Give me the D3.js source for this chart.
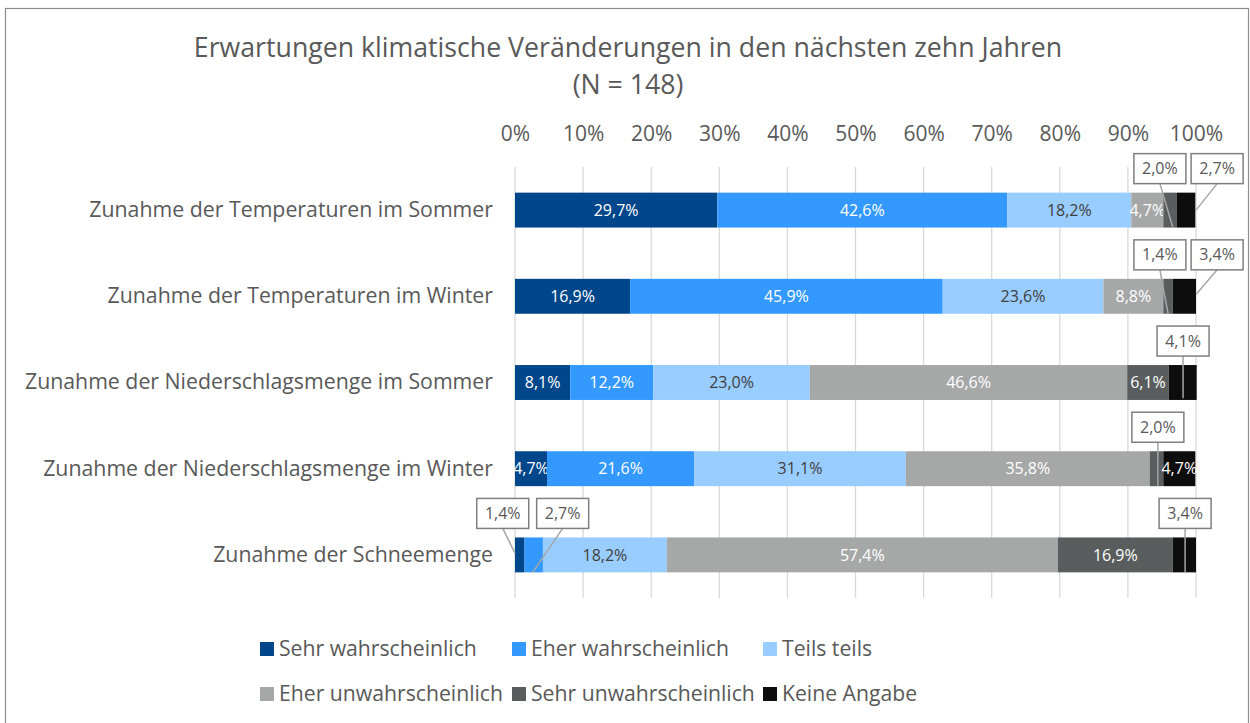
<!DOCTYPE html>
<html><head><meta charset="utf-8">
<script src="https://cdn.jsdelivr.net/npm/d3@7"></script>
<style>
html,body{margin:0;padding:0;background:#fff;}
svg{display:block;font-family:"Open Sans",sans-serif;}
</style></head>
<body>
<svg id="chart" width="1250" height="723"></svg>
<script>
const categories = [
  "Zunahme der Temperaturen im Sommer",
  "Zunahme der Temperaturen im Winter",
  "Zunahme der Niederschlagsmenge im Sommer",
  "Zunahme der Niederschlagsmenge im Winter",
  "Zunahme der Schneemenge"
];
const seriesNames = ["Sehr wahrscheinlich","Eher wahrscheinlich","Teils teils","Eher unwahrscheinlich","Sehr unwahrscheinlich","Keine Angabe"];
const sehrWahrscheinlich   = [29.7, 16.9,  8.1,  4.7,  1.4];
const eherWahrscheinlich   = [42.6, 45.9, 12.2, 21.6,  2.7];
const teilsTeils           = [18.2, 23.6, 23.0, 31.1, 18.2];
const eherUnwahrscheinlich = [ 4.7,  8.8, 46.6, 35.8, 57.4];
const sehrUnwahrscheinlich = [ 2.0,  1.4,  6.1,  2.0, 16.9];
const keineAngabe          = [ 2.7,  3.4,  4.1,  4.7,  3.4];
const tickValues = [0,10,20,30,40,50,60,70,80,90,100];
// callouts: [row, series, box centre (% units), leader end (% units), leader end (fraction of bar height)]
const callouts = [
  [0,4, 94.7, 96.6, 1.0],[0,5,103.1,100.0,0.5],
  [1,4, 94.7, 95.9, 1.0],[1,5,103.1,100.0,0.45],
  [2,5, 98.1, 98.1, 0.95],
  [3,4, 94.4, 94.4, 1.0],
  [4,0, -1.8,  0.0, 0.45],[4,1, 7.0, 2.6, 1.0],[4,5, 98.4, 98.4, 1.0]
];

const colors = ["#00468B","#3399FF","#99CCFF","#A6A8A8","#595D5E","#0D0D0D"];
const labelColors = ["#fff","#fff","#404040","#fff","#fff","#fff"];
const allSeries = [sehrWahrscheinlich, eherWahrscheinlich, teilsTeils, eherUnwahrscheinlich, sehrUnwahrscheinlich, keineAngabe];

const svg = d3.select("#chart");
const textCol = "#595959";

// border
svg.append("rect").attr("x",5.5).attr("y",8.5).attr("width",1243).attr("height",730)
  .attr("fill","none").attr("stroke","#8c8c8c").attr("stroke-width",1.2);

// title
svg.append("text").attr("x",628).attr("y",57).attr("text-anchor","middle")
  .attr("font-size",26.7).attr("fill",textCol)
  .text("Erwartungen klimatische Veränderungen in den nächsten zehn Jahren");
svg.append("text").attr("x",628).attr("y",94).attr("text-anchor","middle")
  .attr("font-size",26.7).attr("fill",textCol).text("(N = 148)");

const x = d3.scaleLinear().domain([0,100]).range([515,1196]);
const y = d3.scaleBand().domain(categories).range([167,598]).paddingInner(0.595).paddingOuter(0.2975);

// gridlines
svg.append("g").selectAll("line").data(tickValues).join("line")
  .attr("x1",d=>x(d)).attr("x2",d=>x(d)).attr("y1",167).attr("y2",598)
  .attr("stroke","#d9d9d9").attr("stroke-width",1.3);

// top axis
const ax = svg.append("g").attr("transform","translate(0,147)")
  .call(d3.axisTop(x).tickValues(tickValues).tickFormat(d=>d+"%").tickSize(0).tickPadding(6));
ax.select(".domain").remove();
ax.selectAll("text").attr("font-size",21).attr("fill",textCol).attr("font-family","Open Sans");

// category labels
const ay = svg.append("g").attr("transform","translate(493,0)")
  .call(d3.axisLeft(y).tickSize(0).tickPadding(0));
ay.select(".domain").remove();
ay.selectAll("text").attr("font-size",21.3).attr("fill",textCol).attr("font-family","Open Sans");

// stacked data
const rows = categories.map((c,i)=>{
  const o = {cat:c}; seriesNames.forEach((s,j)=>o[s]=allSeries[j][i]); return o;
});
const stack = d3.stack().keys(seriesNames)(rows);

const fmt = v => v.toFixed(1).replace(".",",")+"%";
const calloutSet = new Set(callouts.map(c=>c[0]+"_"+c[1]));

stack.forEach((layer,j)=>{
  const g = svg.append("g");
  g.selectAll("rect").data(layer).join("rect")
    .attr("x",d=>x(d[0])).attr("width",d=>x(d[1])-x(d[0]))
    .attr("y",d=>y(d.data.cat)).attr("height",y.bandwidth())
    .attr("fill",colors[j]);
  g.selectAll("text").data(layer.map((d,i)=>({d,i})).filter(o=>!calloutSet.has(o.i+"_"+j)))
    .join("text")
    .attr("x",o=>x((o.d[0]+o.d[1])/2)).attr("y",o=>y(o.d.data.cat)+y.bandwidth()/2)
    .attr("dy","0.35em").attr("text-anchor","middle")
    .attr("font-size",16).attr("fill",labelColors[j])
    .text(o=>fmt(allSeries[j][o.i]));
});

// callouts
const cg = svg.append("g");
callouts.forEach(([r,s,bc,le,lf])=>{
  const by = y(categories[r]);
  const boxW = 52, boxH = 30;
  const cx = x(bc);
  const top = by - 39;
  cg.append("line").attr("x1",cx).attr("y1",top+boxH).attr("x2",x(le)).attr("y2",by+lf*y.bandwidth())
    .attr("stroke","#a6a6a6").attr("stroke-width",1.5);
  cg.append("rect").attr("x",cx-boxW/2).attr("y",top).attr("width",boxW).attr("height",boxH)
    .attr("fill","#fff").attr("stroke","#7f7f7f").attr("stroke-width",1.5);
  cg.append("text").attr("x",cx).attr("y",top+boxH/2).attr("dy","0.35em").attr("text-anchor","middle")
    .attr("font-size",16).attr("fill",textCol).text(fmt(allSeries[s][r]));
});

// legend
const legendRows = [[0,1,2],[3,4,5]];
const legX = [260,512,763];
const legY = [649,694];
legendRows.forEach((row,ri)=>row.forEach((si,ci)=>{
  svg.append("rect").attr("x",legX[ci]).attr("y",legY[ri]-7).attr("width",14).attr("height",14).attr("fill",colors[si]);
  svg.append("text").attr("x",legX[ci]+19).attr("y",legY[ri]).attr("dy","0.35em")
    .attr("font-size",21.2).attr("fill",textCol).text(seriesNames[si]);
}));
</script>
</body></html>
